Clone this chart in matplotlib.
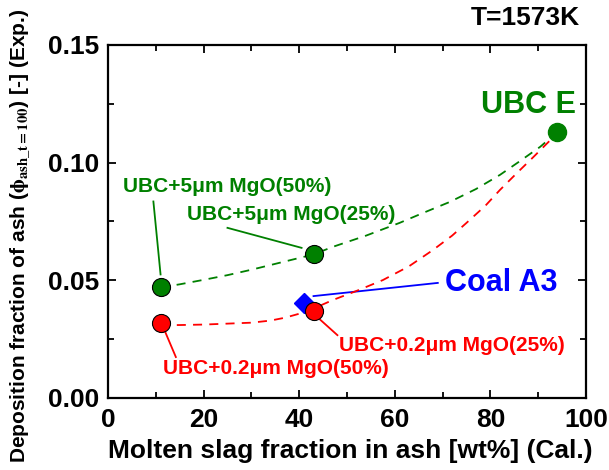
import matplotlib
matplotlib.use("Agg")
import matplotlib.pyplot as plt
from matplotlib.ticker import MultipleLocator, FormatStrFormatter

plt.rcParams['font.family'] = ['Liberation Sans', 'DejaVu Sans']
plt.rcParams['font.weight'] = 'bold'
plt.rcParams['axes.labelweight'] = 'bold'
plt.rcParams['mathtext.fontset'] = 'stix'

GREEN = '#008000'
RED = '#ff0000'
BLUE = '#0000ff'

# measured points
green_x = [11, 43, 94]
green_y = [0.047, 0.061, 0.113]
red_x = [11, 43]
red_y = [0.032, 0.037]
coal_x = [41]
coal_y = [0.0405]

# dashed trend curves
gcurve_x = [11, 15, 20, 25, 30, 35, 43, 47, 54, 61, 66, 71.5, 77, 82, 86, 90.4, 94]
gcurve_y = [0.047, 0.0483, 0.0502, 0.0522, 0.0545, 0.0570, 0.061, 0.0642, 0.0690, 0.0744, 0.0787, 0.0833, 0.0888, 0.0948, 0.1004, 0.1067, 0.113]
rcurve_x = [11, 15, 20, 25, 30, 34, 37, 40, 43, 47, 52, 57.5, 63, 68, 72, 75, 79, 82, 85.5, 89, 93]
rcurve_y = [0.031, 0.031, 0.0312, 0.0316, 0.032, 0.0329, 0.0341, 0.0358, 0.038, 0.0416, 0.0455, 0.0501, 0.0560, 0.0629, 0.0690, 0.0744, 0.0818, 0.0884, 0.0955, 0.1024, 0.1105]

fig = plt.figure(figsize=(6.09, 4.70), dpi=100)
ax = fig.add_axes([0.1773, 0.1532, 0.7849, 0.7511])

ax.plot(gcurve_x, gcurve_y, '--', color=GREEN, lw=1.3, dashes=(5, 4), zorder=2)
ax.plot(rcurve_x, rcurve_y, '--', color=RED, lw=1.3, dashes=(5, 4), zorder=2)

ax.plot(coal_x, coal_y, 'D', color=BLUE, ms=10, mec=BLUE, zorder=3)
ax.plot(green_x[:2], green_y[:2], 'o', color=GREEN, ms=13, mec='black', mew=0.8, zorder=4)
ax.plot(green_x[2:], green_y[2:], 'o', color=GREEN, ms=13, mec=GREEN, zorder=4)
ax.plot(red_x, red_y, 'o', color=RED, ms=13, mec='black', mew=0.8, zorder=4)

# labels with leader lines
lab = 15
ax.plot([9.5, 11], [0.0835, 0.0525], color=GREEN, lw=1.3, zorder=1)
ax.text(3.1, 0.0899, 'UBC+5\u03bcm MgO(50%)', color=GREEN, fontsize=lab, va='center', ha='left')
ax.plot([25, 40.5], [0.0723, 0.0638], color=GREEN, lw=1.3, zorder=1)
ax.text(16.5, 0.0778, 'UBC+5\u03bcm MgO(25%)', color=GREEN, fontsize=lab, va='center', ha='left')
ax.text(97.9, 0.1245, 'UBC E', color=GREEN, fontsize=22, va='center', ha='right')

ax.plot([43, 69.0], [0.0433, 0.0489], color=BLUE, lw=1.3, zorder=1)
ax.text(70.5, 0.0489, 'Coal A3', color=BLUE, fontsize=22, va='center', ha='left')

ax.plot([44, 48.0], [0.034, 0.0267], color=RED, lw=1.3, zorder=1)
ax.text(48.3, 0.0221, 'UBC+0.2\u03bcm MgO(25%)', color=RED, fontsize=lab, va='center', ha='left')
ax.plot([11.8, 14.2], [0.0289, 0.0174], color=RED, lw=1.3, zorder=1)
ax.text(11.5, 0.0127, 'UBC+0.2\u03bcm MgO(50%)', color=RED, fontsize=lab, va='center', ha='left')

ax.set_xlim(0, 100)
ax.set_ylim(0, 0.15)
ax.xaxis.set_major_locator(MultipleLocator(20))
ax.xaxis.set_minor_locator(MultipleLocator(10))
ax.yaxis.set_major_locator(MultipleLocator(0.05))
ax.yaxis.set_minor_locator(MultipleLocator(0.025))
ax.xaxis.set_major_formatter(FormatStrFormatter('%d'))
ax.yaxis.set_major_formatter(FormatStrFormatter('%.2f'))
ax.tick_params(which='both', direction='in', top=True, right=True, width=1.3, labelsize=19)
ax.tick_params(axis='y', pad=6)
ax.tick_params(axis='x', pad=7)
ax.tick_params(which='major', length=6)
ax.tick_params(which='minor', length=4)
for t in ax.get_xticklabels() + ax.get_yticklabels():
    t.set_fontweight('bold')
for s in ax.spines.values():
    s.set_linewidth(1.6)

ax.set_xlabel('Molten slag fraction in ash [wt%] (Cal.)', fontsize=19, fontweight='bold', va='center')
ax.xaxis.set_label_coords(0.506, -0.150)
ax.set_ylabel(r'Deposition fraction of ash ($\mathrm{\phi}_{\rm ash\_t=100}$) [-] (Exp.)', fontsize=15,
              fontweight='bold', va='center')
ax.yaxis.set_label_coords(-0.184, 0.46)

fig.text(0.952, 0.962, 'T=1573K', fontsize=19, fontweight='bold', ha='right', va='center')

fig.savefig('out.png', dpi=100)
